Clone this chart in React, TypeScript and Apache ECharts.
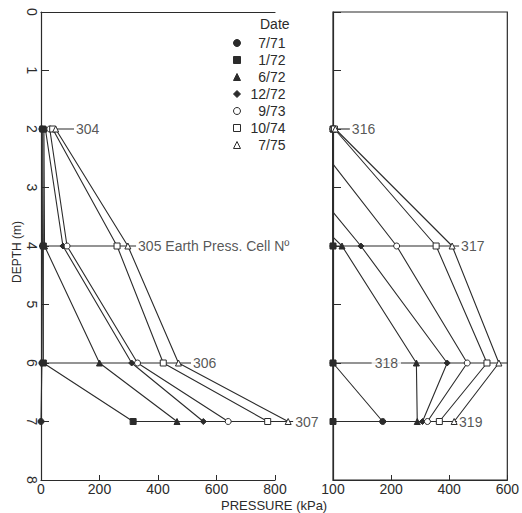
import React, { useEffect, useRef } from 'react';
import * as echarts from 'echarts';

// ---- data ----
const dates = ['7/71', '1/72', '6/72', '12/72', '9/73', '10/74', '7/75'];
const dateSymbols = ['circle', 'rect', 'triangle', 'diamond', 'circle', 'rect', 'triangle'];
const dateHollow = [false, false, false, false, true, true, true];

const cellDepths = [2, 4, 6, 7];

// left panel: earth pressure cells 304-307 (kPa)
const left304 = [3, 6, 10, 15, 30, 40, 50];
const left305 = [5, 8, 12, 75, 89, 260, 297];
const left306 = [3, 8, 200, 310, 330, 418, 470];
const left307 = [0, 315, 465, 555, 640, 775, 845];

// right panel: earth pressure cells 316-319 (kPa)
const right316 = [0, 0, 0, 0, 0, 5, 8];
const right317 = [0, 0, 31, 96, 219, 355, 410];
const right318 = [0, 0, 287, 393, 462, 530, 571];
const right319 = [171, 0, 290, 308, 325, 366, 417];
// depth (m) at which a right-panel profile leaves 0 kPa
const rightZeroUntil: (number | null)[] = [null, null, 3.85, 3.42, 2.6, null, null];

// cell reference lines (kPa extents) and labels
const leftCellLabels = ['304', '305 Earth Press. Cell N\u00ba', '306', '307'];
const leftCellLineFrom = [0, 0, 0, 315];
const leftCellLineTo = [113, 325, 513, 862];
const rightCellLabels = ['316', '317', '318', '319'];
const rightCellLineFrom = [0, 0, 0, 0];
const rightCellLineTo = [58, 434, 600, 427];
const rightCellLabelAt = [58, 434, 133, 427];

const leftXTicks = ['0', '200', '400', '600', '800'];
const rightXTicks = ['100', '200', '400', '600'];
const depthTicks = ['0', '1', '2', '3', '4', '5', '6', '7', '8'];

const LEFT_AXIS_MAX = 800;
const LEFT_DATA_MAX = 880;

const FONT = '"Liberation Sans", Arial, sans-serif';
const INK = '#2b2b2b';

export default function App() {
  const ref = useRef<HTMLDivElement>(null);
  useEffect(() => {
    const chart = echarts.init(ref.current!, null, { renderer: 'svg' });
    const leftVals = [left304, left305, left306, left307];
    const rightVals = [right316, right317, right318, right319];

    const series: any[] = [];
    dates.forEach((d, i) => {
      const common = {
        type: 'line',
        name: d,
        symbol: dateSymbols[i],
        symbolSize: 6,
        clip: false,
        z: 4,
        lineStyle: { color: INK, width: 1.1 },
        itemStyle: { color: dateHollow[i] ? '#fff' : INK, borderColor: INK, borderWidth: 1 },
      };
      series.push({
        ...common,
        xAxisIndex: 3,
        yAxisIndex: 2,
        data: cellDepths.map((dep, k) => [leftVals[k][i], dep]),
      });
      const rdata: any[] = [[rightVals[0][i], cellDepths[0]]];
      if (rightZeroUntil[i] != null) rdata.push({ value: [0, rightZeroUntil[i]], symbol: 'none' });
      for (let k = 1; k < cellDepths.length; k++) rdata.push([rightVals[k][i], cellDepths[k]]);
      series.push({ ...common, xAxisIndex: 2, yAxisIndex: 1, data: rdata });
    });

    const cellLine = (xi: number, yi: number, from: number, to: number, dep: number) => ({
      type: 'line',
      xAxisIndex: xi,
      yAxisIndex: yi,
      symbol: 'none',
      clip: false,
      silent: true,
      z: 3,
      lineStyle: { color: INK, width: 1.1 },
      data: [[from, dep], [to, dep]],
    });
    cellDepths.forEach((dep, k) => {
      series.push(cellLine(3, 2, leftCellLineFrom[k], leftCellLineTo[k], dep));
      series.push(cellLine(2, 1, rightCellLineFrom[k], rightCellLineTo[k], dep));
    });

    const labelStyle = {
      show: true,
      position: 'right',
      distance: 2,
      fontSize: 14,
      fontFamily: FONT,
      color: INK,
      formatter: (p: any) => (p.data.value ? p.data.value[2] : p.data[2]),
    };
    series.push({
      type: 'scatter',
      xAxisIndex: 3,
      yAxisIndex: 2,
      symbolSize: 0,
      clip: false,
      silent: true,
      z: 6,
      label: labelStyle,
      data: cellDepths.map((dep, k) => [leftCellLineTo[k], dep, leftCellLabels[k]]),
    });
    series.push({
      type: 'scatter',
      xAxisIndex: 2,
      yAxisIndex: 1,
      symbolSize: 0,
      clip: false,
      silent: true,
      z: 6,
      label: labelStyle,
      data: cellDepths.map((dep, k) =>
        rightCellLabelAt[k] < rightCellLineTo[k]
          ? { value: [rightCellLabelAt[k], dep, rightCellLabels[k]], label: { backgroundColor: '#fff', padding: [0, 3], distance: 0 } }
          : [rightCellLabelAt[k], dep, rightCellLabels[k]]
      ),
    });

    const axisLine = { show: true, onZero: false, lineStyle: { color: INK, width: 1.2 } };
    const labelFont = { fontSize: 14, fontFamily: FONT, color: INK };
    const pxPerKpa = 234 / LEFT_AXIS_MAX;

    chart.setOption({
      animation: false,
      backgroundColor: '#fff',
      textStyle: { fontFamily: FONT },
      grid: [
        { left: 41, top: 12, width: 234, height: 468 },
        { left: 333, top: 12, width: 175, height: 468, show: true, borderColor: INK, borderWidth: 1.2 },
        { left: 41, top: 12, width: LEFT_DATA_MAX * pxPerKpa, height: 468 },
      ],
      xAxis: [
        {
          type: 'value', gridIndex: 0, position: 'bottom', min: 0, max: LEFT_AXIS_MAX, interval: 200,
          axisLine, splitLine: { show: false },
          axisTick: { show: true, inside: true, length: 5, lineStyle: { color: INK } },
          axisLabel: { ...labelFont, margin: 2, formatter: (v: number) => leftXTicks[Math.round(v / 200)] ?? '' },
        },
        {
          type: 'value', gridIndex: 0, position: 'top', min: 0, max: LEFT_AXIS_MAX,
          axisLine, splitLine: { show: false }, axisTick: { show: false }, axisLabel: { show: false },
        },
        {
          type: 'value', gridIndex: 1, position: 'bottom', min: 0, max: 600, interval: 200,
          axisLine, splitLine: { show: false },
          axisTick: { show: true, inside: true, length: 5, lineStyle: { color: INK } },
          axisLabel: { ...labelFont, margin: 2, formatter: (v: number) => rightXTicks[Math.round(v / 200)] ?? '' },
        },
        { type: 'value', gridIndex: 2, min: 0, max: LEFT_DATA_MAX, show: false },
      ],
      yAxis: [
        {
          type: 'value', gridIndex: 0, inverse: true, min: 0, max: 8, interval: 1,
          axisLine, splitLine: { show: false },
          axisTick: { show: true, inside: true, length: 8, lineStyle: { color: INK } },
          axisLabel: {
            ...labelFont, rotate: -90, margin: 2, align: 'center', verticalAlign: 'top',
            formatter: (v: number) => depthTicks[v] ?? '',
          },
          name: 'DEPTH (m)', nameLocation: 'middle', nameRotate: 90, nameGap: 18,
          nameTextStyle: { fontSize: 12, fontFamily: FONT, color: INK, padding: [0, 12, 0, 0] },
        },
        {
          type: 'value', gridIndex: 1, inverse: true, min: 0, max: 8, interval: 1,
          axisLine, splitLine: { show: false },
          axisTick: { show: true, inside: true, length: 8, lineStyle: { color: INK } },
          axisLabel: { show: false },
        },
        { type: 'value', gridIndex: 2, inverse: true, min: 0, max: 8, show: false },
      ],
      legend: {
        data: dates.map((d, i) => ({ name: d, icon: dateSymbols[i] })),
        orient: 'vertical',
        left: 228,
        top: 31,
        itemWidth: 7,
        itemHeight: 7,
        itemGap: 3,
        selectedMode: false,
        itemStyle: { borderWidth: 1, borderColor: INK },
        formatter: (n: string) => `{r|${n}}`,
        textStyle: {
          fontSize: 14, fontFamily: FONT, color: INK,
          rich: { r: { width: 40, align: 'right', fontSize: 14, fontFamily: FONT, color: INK } },
        },
      },
      graphic: [
        { type: 'text', left: 260, top: 17, style: { text: 'Date', fontSize: 14, fontFamily: FONT, fill: INK } },
        { type: 'text', left: 221, top: 499, style: { text: 'PRESSURE (kPa)', fontSize: 13, fontFamily: FONT, fill: INK } },
      ],
      series,
    });
    return () => chart.dispose();
  }, []);
  return <div ref={ref} style={{ position: 'absolute', left: 0, top: 0, width: 522, height: 513 }} />;
}
